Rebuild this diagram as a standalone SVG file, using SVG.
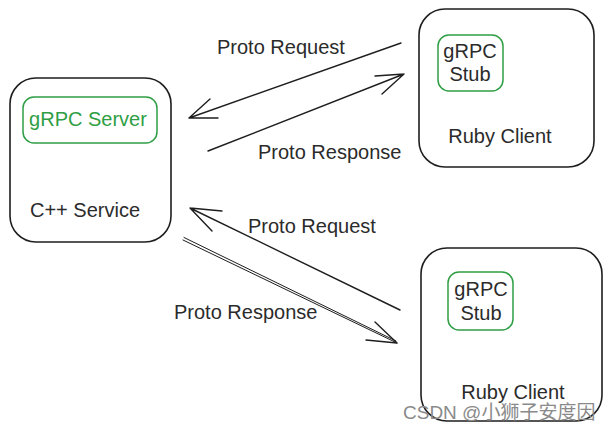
<svg xmlns="http://www.w3.org/2000/svg" width="612" height="431" viewBox="0 0 612 431">
<style>
.box{fill:none;stroke:#1e1e1e;stroke-width:1.6}
.gbox{fill:none;stroke:#2f9e44;stroke-width:1.5}
.t{font-family:"Liberation Sans",Arial,sans-serif;font-size:20px;fill:#2b2b2b}
.g{fill:#2f9e44}
.mid{text-anchor:middle}
.ln{fill:none;stroke:#1e1e1e;stroke-width:1.4;stroke-linecap:round;stroke-linejoin:round}
.ln2{fill:none;stroke:#1e1e1e;stroke-width:1;stroke-linecap:round}
.wm{font-family:"Liberation Sans","Noto Sans CJK SC",sans-serif;font-size:19px;fill:#8a8a8a}
</style>
<rect width="612" height="431" fill="#ffffff"/>
<g id="cpp-service">
<rect class="box" x="10" y="78" width="161" height="164" rx="26"/>
<rect class="gbox" x="23" y="97" width="134" height="46" rx="11"/>
<text class="t g mid" x="88" y="126">gRPC Server</text>
<text class="t" x="30" y="217">C++ Service</text>
</g>
<g id="ruby-client-1">
<rect class="box" x="419" y="9" width="175" height="158" rx="26"/>
<rect class="gbox" x="438" y="35" width="65" height="56" rx="11"/>
<text class="t mid" x="470" y="58">gRPC</text>
<text class="t mid" x="470" y="81">Stub</text>
<text class="t mid" x="500" y="143">Ruby Client</text>
</g>
<g id="ruby-client-2">
<rect class="box" x="421" y="248" width="181" height="173" rx="26"/>
<rect class="gbox" x="448" y="272" width="65" height="58" rx="11"/>
<text class="t mid" x="481" y="296">gRPC</text>
<text class="t mid" x="481" y="320">Stub</text>
<text class="t mid" x="513" y="399">Ruby Client</text>
</g>
<g id="connectors">
<path class="ln" d="M401 43 L189 118 M210 99 L189 118 L218 118"/>
<path class="ln" d="M208 151 L404 74 M375 76 L404 74 L382 94"/>
<path class="ln" d="M400 310 L190 208 M222 211 L190 208 L212 231"/>
<path class="ln2" d="M183 240 L397 343 M184 237.5 L396 341"/>
<path class="ln" d="M366 340 L397 343 L375 322"/>
<text class="t" x="217" y="54">Proto Request</text>
<text class="t" x="258" y="159">Proto Response</text>
<text class="t" x="248" y="233">Proto Request</text>
<text class="t" x="174" y="319">Proto Response</text>
</g>
<text class="wm" x="403" y="419">CSDN @小狮子安度因</text>
</svg>
